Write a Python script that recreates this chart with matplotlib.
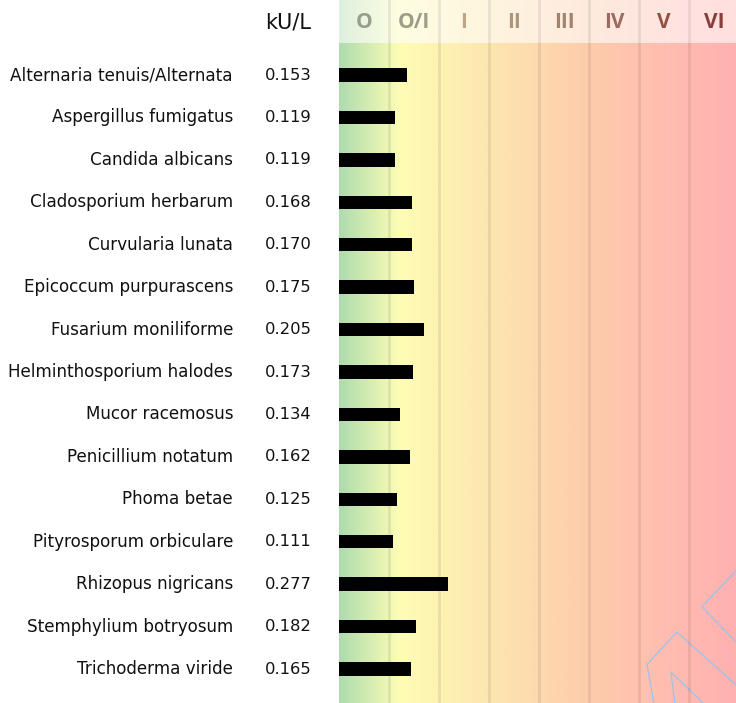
import numpy as np
import matplotlib
matplotlib.use("Agg")
import matplotlib.pyplot as plt
from matplotlib.colors import LinearSegmentedColormap
from matplotlib.transforms import blended_transform_factory

allergens = [
    "Alternaria tenuis/Alternata",
    "Aspergillus fumigatus",
    "Candida albicans",
    "Cladosporium herbarum",
    "Curvularia lunata",
    "Epicoccum purpurascens",
    "Fusarium moniliforme",
    "Helminthosporium halodes",
    "Mucor racemosus",
    "Penicillium notatum",
    "Phoma betae",
    "Pityrosporum orbiculare",
    "Rhizopus nigricans",
    "Stemphylium botryosum",
    "Trichoderma viride",
]
values = [0.153, 0.119, 0.119, 0.168, 0.170, 0.175, 0.205, 0.173,
          0.134, 0.162, 0.125, 0.111, 0.277, 0.182, 0.165]

classes = ["O", "O/I", "I", "II", "III", "IV", "V", "VI"]
class_edges = [0, 0.1, 0.25, 0.4, 0.7, 3.5, 17.5, 50, 100]
class_colors = ["#979e8e", "#9c9c88", "#bba785", "#ab967d", "#a2836f",
                "#9c6a5f", "#925246", "#883d38"]
unit = "kU/L"

grad_colors = ["#afdcae", "#fdfdb5", "#fde6b0", "#fdcdab", "#ffbdb0", "#ffb1b1"]
grad_stops = [0.0, 0.15, 0.38, 0.62, 0.82, 1.0]

W, H = 736, 703
x0 = 339
row0, row_step = 75, 42.43


def fwd(v):
    return np.interp(v, class_edges, np.arange(len(class_edges)))


def inv(c):
    return np.interp(c, np.arange(len(class_edges)), class_edges)


def main():
    fig = plt.figure(figsize=(W / 100, H / 100), dpi=100)
    pos = [x0 / W, 0, (W - x0) / W, 1]

    # background gradient
    bg = fig.add_axes(pos, zorder=0)
    cmap = LinearSegmentedColormap.from_list("grad", list(zip(grad_stops, grad_colors)))
    bg.imshow(np.linspace(0, 1, 400)[None, :], aspect="auto", cmap=cmap,
              extent=[0, 1, 0, 1], interpolation="bilinear")
    bg.set_xlim(0, 1)
    bg.set_ylim(0, 1)
    bg.axis("off")

    # watermark outline
    wm = [
        ([1.0, 0.914, 1.0], [0.188, 0.137, 0.087]),
        ([1.0, 0.851, 0.776, 0.793], [0.026, 0.101, 0.055, 0.0]),
        ([0.917, 0.836, 0.846], [0.0, 0.044, 0.0]),
    ]
    for xs, ys in wm:
        bg.plot(xs, ys, color="#9cc3ea", lw=0.9, clip_on=True)

    ax = fig.add_axes(pos, zorder=1)
    ax.patch.set_visible(False)
    ax.set_xscale("function", functions=(fwd, inv))
    ax.set_xlim(0, inv((W - x0) / 50))
    ylo = -row0 / row_step
    yhi = (H - row0) / row_step
    ax.set_ylim(yhi, ylo)

    y = np.arange(len(allergens))
    ax.barh(y, values, height=13.5 / row_step, left=0, color="black", zorder=3)

    # header band
    ax.axhspan(ylo, ylo + 43 / row_step, color="white", alpha=0.6, lw=0, zorder=1)
    for e in class_edges[1:-1]:
        ax.axvline(e, color="black", alpha=0.08, lw=2.0, zorder=2)
    hy = ylo + 22 / row_step
    for i, (c, col) in enumerate(zip(classes, class_colors)):
        ax.text(inv(i + 0.5), hy, c, ha="center", va="center", color=col,
                fontsize=15, fontweight="bold", family="Open Sans", zorder=4)

    for s in ax.spines.values():
        s.set_visible(False)
    ax.set_xticks([])
    ax.set_yticks([])

    tr = blended_transform_factory(fig.transFigure, ax.transData)
    for yi, name, v in zip(y, allergens, values):
        ax.text(233 / W, yi, name, transform=tr, ha="right", va="center",
                fontsize=12.05, color="#111111")
        ax.text(265 / W, yi, f"{v:.3f}", transform=tr, ha="left", va="center",
                fontsize=11.8, color="#111111")
    ax.text(265 / W, hy, unit, transform=tr, ha="left", va="center",
            fontsize=15, color="#111111")

    fig.savefig("out.png", dpi=100)


if __name__ == "__main__":
    main()
